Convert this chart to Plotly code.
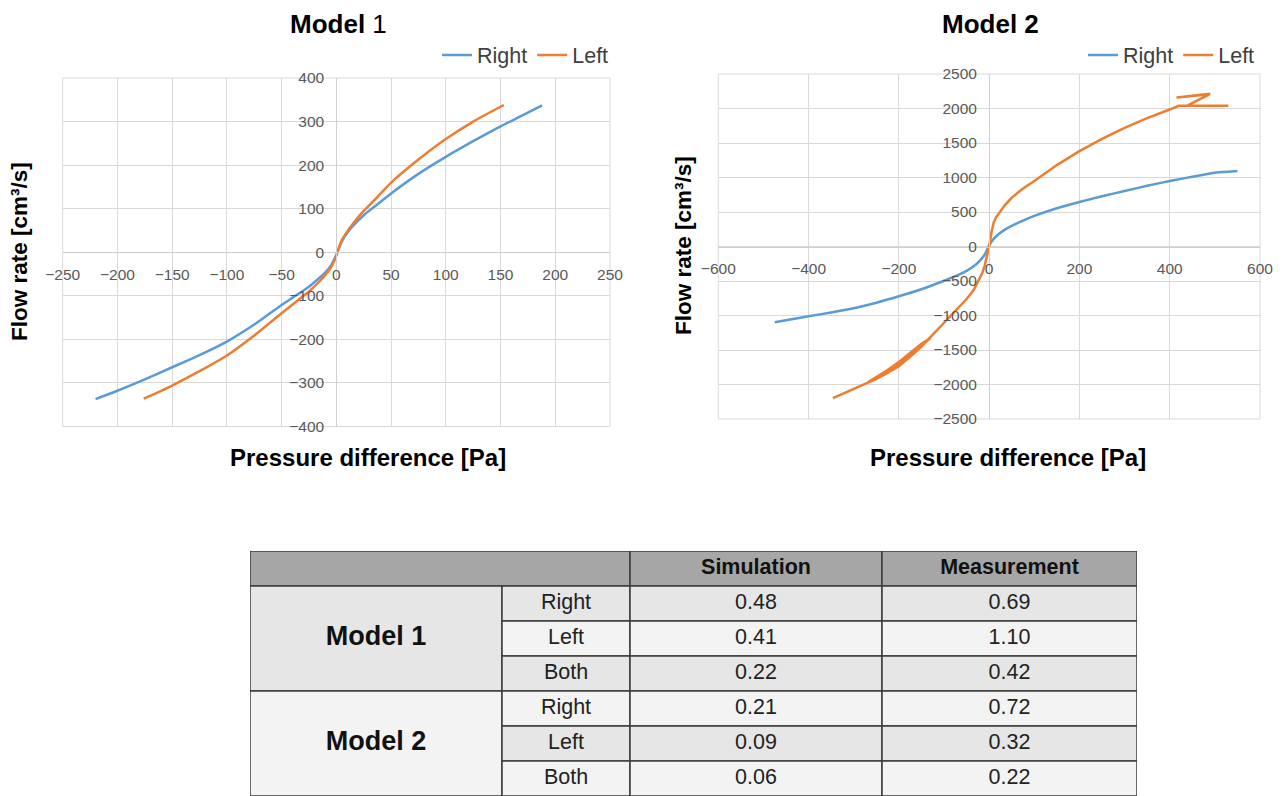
import plotly.graph_objects as go

# ---------------- data ----------------
m1_right_x = [-220, -200, -175, -150, -125, -100, -75, -50, -35, -25, -15, -10, -5, 0, 3, 5, 10, 15, 25, 35, 50, 75,
              100, 125, 150, 170, 188]
m1_right_y = [-337, -318, -292, -264, -236, -205, -166, -121, -96, -79, -58, -46, -31, -6, 14, 25, 45, 60, 85, 105,
              135, 180, 219, 255, 289, 314, 337]
m1_left_x = [-176, -160, -150, -125, -100, -75, -50, -35, -25, -15, -10, -5, 0, 3, 5, 10, 15, 25, 35, 50, 75, 100,
             125, 153]
m1_left_y = [-336, -318, -306, -273, -237, -191, -140, -110, -90, -66, -52, -35, -8, 15, 28, 48, 65, 95, 120, 160,
             213, 260, 300, 338]

m2_right_x = [-475, -450, -400, -350, -300, -250, -200, -150, -100, -75, -50, -30, -20, -10, 0, 10, 20, 35, 50, 75,
              100, 150, 200, 250, 300, 350, 400, 450, 500, 530, 550]
m2_right_y = [-1098, -1070, -1012, -955, -896, -815, -722, -620, -496, -430, -352, -265, -200, -120, 15, 110, 175,
              245, 299, 375, 443, 555, 645, 728, 805, 880, 949, 1010, 1069, 1085, 1093]
m2_left_x = [-346, -320, -300, -280, -260, -250, -225, -200, -175, -150, -130, -150, -175, -200, -225, -250, -268,
             -255, -230, -200, -175, -150, -125, -100, -75, -50, -35, -25, -15, -10, -5, 0, 5, 10, 15, 25, 35, 50,
             75, 100, 150, 200, 250, 300, 350, 400, 420, 530, 440, 488, 415, 490]
m2_left_y = [-2196, -2120, -2062, -2000, -1950, -1917, -1820, -1715, -1580, -1435, -1325, -1410, -1545, -1675,
             -1790, -1890, -1965, -1935, -1850, -1735, -1600, -1450, -1280, -1098, -930, -761, -640, -520, -380,
             -280, -150, 0, 200, 347, 420, 515, 600, 708, 840, 949, 1180, 1382, 1560, 1720, 1860, 1985, 2040, 2040,
             2045, 2205, 2160, 2215]

m1_xticks = [-250, -200, -150, -100, -50, 0, 50, 100, 150, 200, 250]
m1_yticks = [-400, -300, -200, -100, 0, 100, 200, 300, 400]
m2_xticks = [-600, -400, -200, 0, 200, 400, 600]
m2_yticks = [-2500, -2000, -1500, -1000, -500, 0, 500, 1000, 1500, 2000, 2500]

series_names = ["Right", "Left"]
titles = ["<b>Model</b> 1", "<b>Model 2</b>"]
x_title = "Pressure difference [Pa]"
y_title = "Flow rate [cm³/s]"

table_header = ["Simulation", "Measurement"]
table_models = ["Model 1", "Model 2"]
table_sides = ["Right", "Left", "Both", "Right", "Left", "Both"]
table_sim = ["0.48", "0.41", "0.22", "0.21", "0.09", "0.06"]
table_meas = ["0.69", "1.10", "0.42", "0.72", "0.32", "0.22"]

# ---------------- style ----------------
W, H = 1288, 796
OFF = 8  # page body margin
BLUE = "#5B9BD5"
ORANGE = "#ED7D31"
GRID = "#d9d9d9"
TICK = "#595959"
FONT = "Liberation Sans, Arial, sans-serif"


def px_x(p):
    return (p - OFF) / W


def px_y(p):
    return 1 - (p - OFF) / H


c1 = dict(x0=62.7, x1=610, y0=78, y1=426.5)
c2 = dict(x0=718.3, x1=1260, y0=74, y1=419)

fig = go.Figure()

fig.add_trace(go.Scatter(x=m1_right_x, y=m1_right_y, mode="lines", name=series_names[0],
                         line=dict(color=BLUE, width=2.5, shape="spline", smoothing=0.6),
                         xaxis="x", yaxis="y", legend="legend"))
fig.add_trace(go.Scatter(x=m1_left_x, y=m1_left_y, mode="lines", name=series_names[1],
                         line=dict(color=ORANGE, width=2.5, shape="spline", smoothing=0.6),
                         xaxis="x", yaxis="y", legend="legend"))
fig.add_trace(go.Scatter(x=m2_right_x, y=m2_right_y, mode="lines", name=series_names[0],
                         line=dict(color=BLUE, width=2.5, shape="spline", smoothing=0.6),
                         xaxis="x2", yaxis="y2", legend="legend2"))
fig.add_trace(go.Scatter(x=m2_left_x, y=m2_left_y, mode="lines", name=series_names[1],
                         line=dict(color=ORANGE, width=2.5),
                         xaxis="x2", yaxis="y2", legend="legend2"))


def axis_common():
    return dict(showgrid=True, gridcolor=GRID, gridwidth=1, zeroline=False,
                showline=True, linecolor="#cfcfcf", linewidth=1.2, automargin=False,
                tickfont=dict(family=FONT, size=15.5, color=TICK),
                ticks="outside", tickcolor="rgba(0,0,0,0)", fixedrange=True)


def dom_x(c):
    return [px_x(c["x0"]), px_x(c["x1"])]


def dom_y(c):
    return [px_y(c["y1"]), px_y(c["y0"])]


xa1 = axis_common(); xa1.update(domain=dom_x(c1), range=[-250, 250], tickvals=m1_xticks,
                                anchor="free", position=sum(dom_y(c1)) / 2, ticklen=8)
ya1 = axis_common(); ya1.update(domain=dom_y(c1), range=[-400, 400], tickvals=m1_yticks,
                                anchor="free", position=sum(dom_x(c1)) / 2, ticklen=9)
xa2 = axis_common(); xa2.update(domain=dom_x(c2), range=[-600, 600], tickvals=m2_xticks,
                                anchor="free", position=sum(dom_y(c2)) / 2, ticklen=8)
ya2 = axis_common(); ya2.update(domain=dom_y(c2), range=[-2500, 2500], tickvals=m2_yticks,
                                anchor="free", position=sum(dom_x(c2)) / 2, ticklen=9)

# table axes (x in pixels from table left, y in row units)
tab_left, tab_right, tab_top = 250, 1137, 551
col_edges = [0, 252, 380, 632, 887]
n_rows = 7
row_h = 35
xa3 = dict(domain=[px_x(tab_left), px_x(tab_right)], range=[0, col_edges[-1]], visible=False,
           fixedrange=True, automargin=False)
ya3 = dict(domain=[px_y(tab_top + n_rows * row_h), px_y(tab_top)], range=[n_rows, 0], visible=False,
           fixedrange=True, automargin=False)

shapes = []
# chart frames
for xr, yr in (("x", "y"), ("x2", "y2")):
    shapes.append(dict(type="rect", xref=f"{xr} domain", yref=f"{yr} domain", x0=0, x1=1, y0=0, y1=1,
                       line=dict(color=GRID, width=1), layer="below"))

LINE = dict(color="#3c3c3c", width=1.5)
HEAD_FILL = "#a6a6a6"
DARK = "#e6e6e6"
LIGHT = "#f3f3f3"
# header
shapes.append(dict(type="rect", xref="x3", yref="y3", x0=col_edges[0], x1=col_edges[2], y0=0, y1=1,
                   fillcolor=HEAD_FILL, line=LINE, layer="below"))
for c in (2, 3):
    shapes.append(dict(type="rect", xref="x3", yref="y3", x0=col_edges[c], x1=col_edges[c + 1], y0=0, y1=1,
                       fillcolor=HEAD_FILL, line=LINE, layer="below"))
# model merged cells
for m in range(2):
    shapes.append(dict(type="rect", xref="x3", yref="y3", x0=col_edges[0], x1=col_edges[1],
                       y0=1 + 3 * m, y1=4 + 3 * m, fillcolor=DARK if m == 0 else LIGHT, line=LINE, layer="below"))
# body cells
for r in range(6):
    fill = DARK if r % 2 == 0 else LIGHT
    for c in (1, 2, 3):
        shapes.append(dict(type="rect", xref="x3", yref="y3", x0=col_edges[c], x1=col_edges[c + 1],
                           y0=1 + r, y1=2 + r, fillcolor=fill, line=LINE, layer="below"))

# table text
mid = lambda c: (col_edges[c] + col_edges[c + 1]) / 2
fig.add_trace(go.Scatter(x=[mid(2), mid(3)], y=[0.5, 0.5], mode="text",
                         text=[f"<b>{t}</b>" for t in table_header],
                         textfont=dict(family=FONT, size=21.5, color="#111111"),
                         xaxis="x3", yaxis="y3", showlegend=False, hoverinfo="skip"))
fig.add_trace(go.Scatter(x=[mid(0)] * 2, y=[2.5, 5.5], mode="text",
                         text=[f"<b>{t}</b>" for t in table_models],
                         textfont=dict(family=FONT, size=27, color="#111111"),
                         xaxis="x3", yaxis="y3", showlegend=False, hoverinfo="skip"))
rows_y = [1.5 + i for i in range(6)]
fig.add_trace(go.Scatter(x=[mid(1)] * 6 + [mid(2)] * 6 + [mid(3)] * 6, y=rows_y * 3, mode="text",
                         text=table_sides + table_sim + table_meas,
                         textfont=dict(family=FONT, size=21.5, color="#222222"),
                         xaxis="x3", yaxis="y3", showlegend=False, hoverinfo="skip"))

annotations = [
    dict(text=titles[0], x=px_x(338), y=1, xref="paper", yref="paper", showarrow=False, borderpad=0,
         font=dict(family=FONT, size=26, color="#000000"), xanchor="center", yanchor="top"),
    dict(text=titles[1], x=px_x(990), y=1, xref="paper", yref="paper", showarrow=False, borderpad=0,
         font=dict(family=FONT, size=26, color="#000000"), xanchor="center", yanchor="top"),
    dict(text=f"<b>{x_title}</b>", x=px_x(368), y=px_y(458), xref="paper", yref="paper", showarrow=False,
         font=dict(family=FONT, size=24, color="#000000"), xanchor="center", yanchor="middle"),
    dict(text=f"<b>{x_title}</b>", x=px_x(1008), y=px_y(458), xref="paper", yref="paper", showarrow=False,
         font=dict(family=FONT, size=24, color="#000000"), xanchor="center", yanchor="middle"),
    dict(text=f"<b>{y_title}</b>", x=px_x(19), y=px_y(252), xref="paper", yref="paper", showarrow=False,
         textangle=-90, font=dict(family=FONT, size=22.5, color="#000000"), xanchor="center", yanchor="middle"),
    dict(text=f"<b>{y_title}</b>", x=px_x(683), y=px_y(245), xref="paper", yref="paper", showarrow=False,
         textangle=-90, font=dict(family=FONT, size=22.5, color="#000000"), xanchor="center", yanchor="middle"),
]

legend_style = dict(orientation="h", xanchor="right", yanchor="middle", bgcolor="rgba(0,0,0,0)",
                    font=dict(family=FONT, size=21.5, color="#404040"), itemwidth=30,
                    tracegroupgap=0)

fig.update_layout(
    width=W, height=H, margin=dict(l=0, r=0, t=0, b=0, pad=0, autoexpand=False),
    paper_bgcolor="white", plot_bgcolor="white",
    xaxis=xa1, yaxis=ya1, xaxis2=xa2, yaxis2=ya2, xaxis3=xa3, yaxis3=ya3,
    shapes=shapes, annotations=annotations,
    legend=dict(x=px_x(614), y=px_y(55), **legend_style),
    legend2=dict(x=px_x(1260), y=px_y(55), **legend_style),
    hovermode=False,
    font=dict(family=FONT),
)

fig.write_html("out.html")
